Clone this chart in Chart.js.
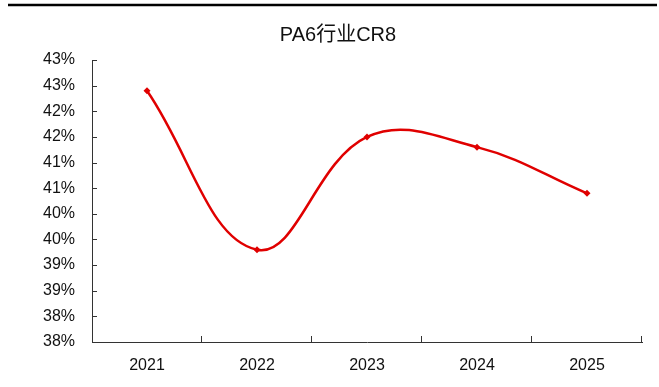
<!DOCTYPE html>
<html>
<head>
<meta charset="utf-8">
<script src="https://cdn.jsdelivr.net/npm/chart.js@4"></script>
<style>
  html, body { margin: 0; padding: 0; background: #fff; }
  #wrap { width: 659px; height: 387px; }
</style>
</head>
<body>
<div id="wrap"><canvas id="chart1" width="659" height="387"></canvas></div>
<script>
const years = ['2021', '2022', '2023', '2024', '2025'];
const cr8 = [42.4, 39.3, 41.5, 41.3, 40.4];
const yMin = 37.5;
const yMax = 43;
const yStep = 0.5;

// tick marks point into the plot, like the original
const innerTicks = {
  id: 'innerTicks',
  afterDraw(chart) {
    const ctx = chart.ctx;
    const area = chart.chartArea;
    const x = chart.scales.x;
    const y = chart.scales.y;
    ctx.save();
    ctx.strokeStyle = '#333';
    ctx.lineWidth = 1;
    ctx.beginPath();
    y.ticks.forEach(t => {
      const py = Math.round(y.getPixelForValue(t.value)) + 0.5;
      ctx.moveTo(area.left, py);
      ctx.lineTo(area.left + 5, py);
    });
    for (let i = 0; i < years.length; i++) {
      const px = Math.round(x.getPixelForValue(i + 0.5)) - 0.5;
      ctx.moveTo(px, area.bottom);
      ctx.lineTo(px, area.bottom - 6);
    }
    ctx.stroke();
    // rule under the cut-off caption at the top
    ctx.lineWidth = 2.5;
    ctx.strokeStyle = '#000';
    ctx.beginPath();
    ctx.moveTo(8, 5);
    ctx.lineTo(657, 5);
    ctx.stroke();
    ctx.restore();
  }
};

drawLine('chart1');

function drawLine(id) {
  const datos = {
    labels: years,
    datasets: [{
      data: cr8,
      borderColor: '#e00000',
      backgroundColor: '#e00000',
      borderWidth: 2.5,
      tension: 0.4,
      pointStyle: 'rectRot',
      pointRadius: 3.5,
      pointBorderWidth: 0
    }]
  };

  const options = {
    responsive: false,
    animation: false,
    layout: { padding: { left: 34, right: 17, top: 0, bottom: 0 } },
    plugins: {
      legend: { display: false },
      tooltip: { enabled: false },
      title: {
        display: true,
        text: 'PA6行业CR8',
        color: '#111',
        font: { family: 'Arial, "Liberation Sans", "Noto Sans CJK SC"', size: 20, weight: 'normal' },
        padding: { top: 23, bottom: 13 }
      }
    },
    scales: {
      x: {
        offset: true,
        grid: { display: false, drawTicks: false, tickLength: 0 },
        border: { display: true, color: '#333', width: 1 },
        ticks: {
          color: '#111',
          padding: 14,
          maxRotation: 0,
          font: { family: 'Arial, "Liberation Sans"', size: 16 }
        },
        afterFit(scale) { scale.height = 45; }
      },
      y: {
        min: yMin,
        max: yMax,
        grid: { display: false, drawTicks: false, tickLength: 0 },
        border: { display: true, color: '#333', width: 1 },
        ticks: {
          stepSize: yStep,
          color: '#111',
          padding: 17,
          font: { family: 'Arial, "Liberation Sans"', size: 16 },
          callback: v => Math.round(v) + '%'
        },
        afterFit(scale) { scale.width = 58; }
      }
    }
  };

  const ctx = document.getElementById(id).getContext('2d');
  new Chart(ctx, { type: 'line', data: datos, options, plugins: [innerTicks] });
}
</script>
</body>
</html>
